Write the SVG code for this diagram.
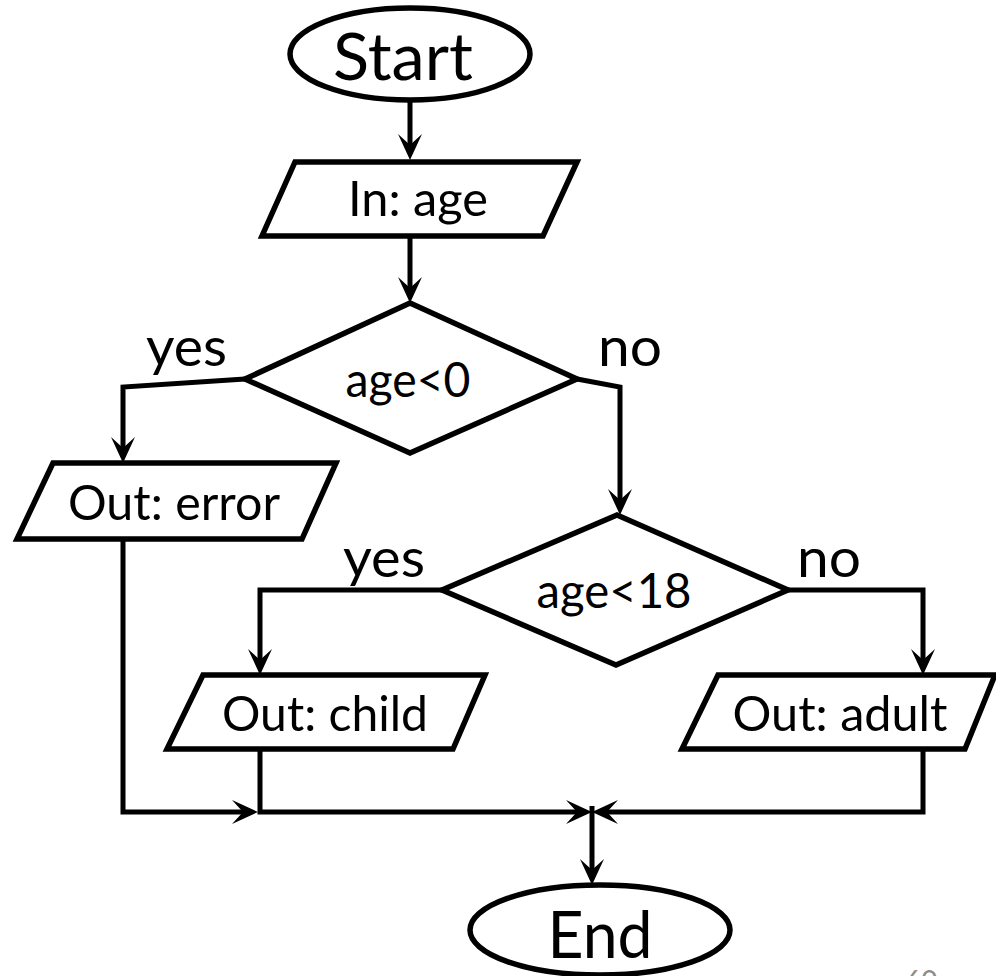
<svg xmlns="http://www.w3.org/2000/svg" width="996" height="976" viewBox="0 0 996 976">
  <style>
    .shape { fill: #ffffff; stroke: #000000; stroke-width: 5.5; stroke-linejoin: miter; }
    .conn { fill: none; stroke: #000000; stroke-width: 5; marker-end: url(#arrow); }
    .lbl { font-family: Lato, "Open Sans", "Liberation Sans", sans-serif; fill: #000000; }
    .big { font-size: 66px; }
    .mid { font-size: 48px; }
    .yn { font-size: 55px; }
    .page { font-family: Lato, "Liberation Sans", sans-serif; font-size: 28px; fill: #8c8c8c; }
  </style>
  <defs>
    <marker id="arrow" viewBox="-30 -14 32 28" refX="-6" refY="0" markerWidth="32" markerHeight="28" markerUnits="userSpaceOnUse" orient="auto">
      <path d="M0,0 L-26,-12 L-15,0 L-26,12 Z" fill="#000000"/>
    </marker>
  </defs>

  <!-- flow lines between the steps -->
  <g id="connectors">
    <path class="conn" d="M410,100 V154"/>
    <path class="conn" d="M410,236 V297"/>
    <path class="conn" d="M245,379 L123,387 V457"/>
    <path class="conn" d="M577,379 L620,387 V509"/>
    <path class="conn" d="M442,590 H260 V669"/>
    <path class="conn" d="M788,590 H923 V669"/>
    <path class="conn" d="M123,539 V812 H252"/>
    <path class="conn" d="M260,749 V812 H586"/>
    <path class="conn" d="M923,749 V812 H598"/>
    <path class="conn" d="M592,806 V879"/>
  </g>

  <g id="start">
    <ellipse class="shape" cx="410" cy="54" rx="120" ry="46"/>
    <text class="lbl big" x="403" y="80" text-anchor="middle" textLength="140" lengthAdjust="spacingAndGlyphs">Start</text>
  </g>

  <g id="input-age">
    <polygon class="shape" points="295,162 577,162 543,236 262,236"/>
    <text class="lbl mid" x="418" y="216" text-anchor="middle" textLength="140" lengthAdjust="spacingAndGlyphs">In: age</text>
  </g>

  <g id="check-negative">
    <polygon class="shape" points="410,303 577,379 410,453 245,379"/>
    <text class="lbl mid" x="408" y="397" text-anchor="middle" textLength="125" lengthAdjust="spacingAndGlyphs">age&lt;0</text>
  </g>
  <text class="lbl yn" x="146" y="366" textLength="81" lengthAdjust="spacingAndGlyphs">yes</text>
  <text class="lbl yn" x="598" y="366" textLength="64" lengthAdjust="spacingAndGlyphs">no</text>

  <g id="out-error">
    <polygon class="shape" points="53,463 336,463 302,539 17,539"/>
    <text class="lbl mid" x="174" y="520" text-anchor="middle" textLength="212" lengthAdjust="spacingAndGlyphs">Out: error</text>
  </g>

  <g id="check-minor">
    <polygon class="shape" points="617,515 788,590 616,665 442,590"/>
    <text class="lbl mid" x="614" y="608" text-anchor="middle" textLength="155" lengthAdjust="spacingAndGlyphs">age&lt;18</text>
  </g>
  <text class="lbl yn" x="343" y="577" textLength="82" lengthAdjust="spacingAndGlyphs">yes</text>
  <text class="lbl yn" x="797" y="577" textLength="64" lengthAdjust="spacingAndGlyphs">no</text>

  <g id="out-child">
    <polygon class="shape" points="203,675 485,675 453,749 167,749"/>
    <text class="lbl mid" x="325" y="731" text-anchor="middle" textLength="206" lengthAdjust="spacingAndGlyphs">Out: child</text>
  </g>

  <g id="out-adult">
    <polygon class="shape" points="718,675 995,675 965,749 682,749"/>
    <text class="lbl mid" x="840" y="731" text-anchor="middle" textLength="215" lengthAdjust="spacingAndGlyphs">Out: adult</text>
  </g>

  <g id="end">
    <ellipse class="shape" cx="600" cy="930" rx="130" ry="45"/>
    <text class="lbl big" x="600" y="958" text-anchor="middle" textLength="105" lengthAdjust="spacingAndGlyphs">End</text>
  </g>

  <text class="page" x="905" y="991">60</text>
</svg>
